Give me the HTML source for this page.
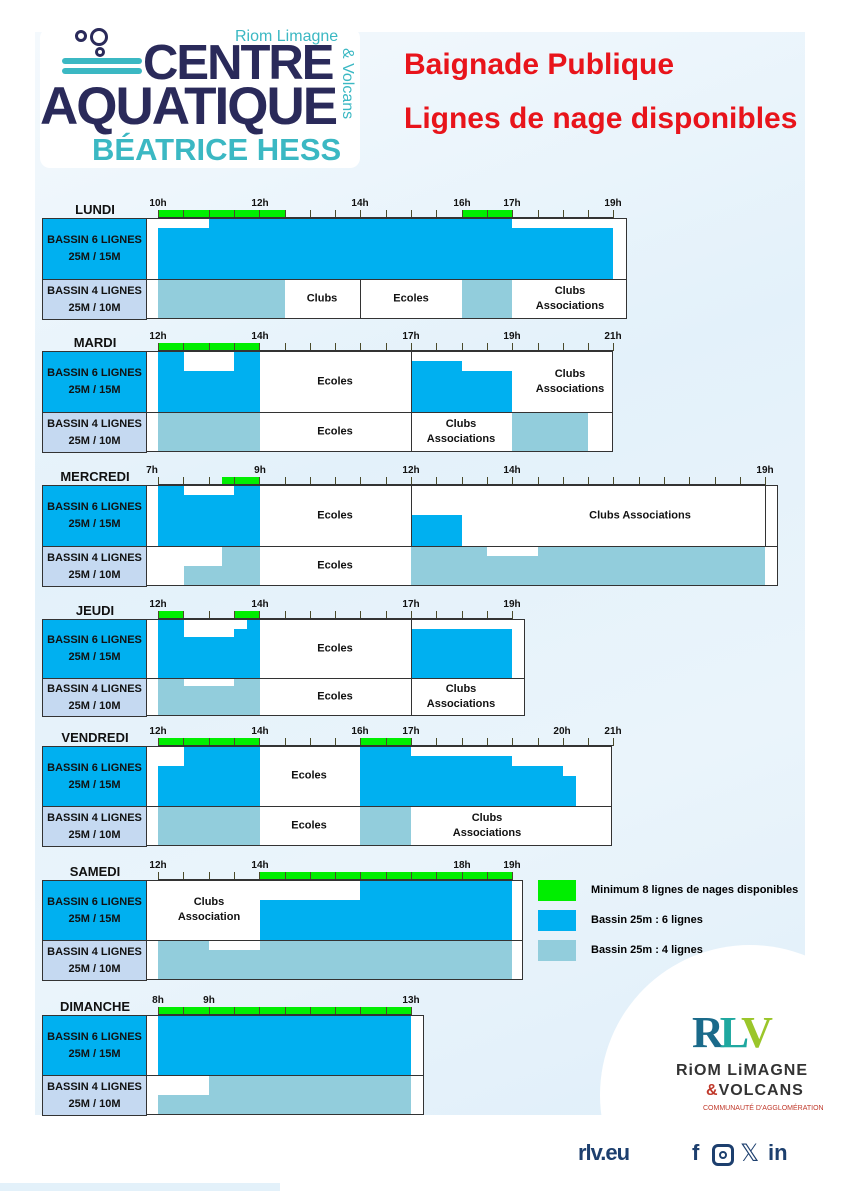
<!DOCTYPE html>
<html><head><meta charset="utf-8">
<style>
*{margin:0;padding:0;box-sizing:border-box}
html,body{width:842px;height:1191px;overflow:hidden}
body{position:relative;background:#fff;font-family:"Liberation Sans",sans-serif}
.a{position:absolute}
.bg{left:35px;top:32px;width:770px;height:1083px;background:linear-gradient(160deg,#f4f9fd 0%,#e3f1fa 40%,#eaf4fb 70%,#e0eff9 100%)}
.lbl{position:absolute;font-weight:bold;font-size:11px;text-align:center;line-height:17px;color:#111;display:flex;flex-direction:column;justify-content:center;border:1px solid #333}
.t{position:absolute;font-weight:bold;font-size:11px;text-align:center;line-height:15px;color:#111;transform:translate(-50%,-50%);white-space:nowrap}
.h{position:absolute;font-weight:bold;font-size:10px;color:#111;transform:translateX(-50%)}
.day{position:absolute;font-weight:bold;font-size:13px;color:#111;transform:translateX(-50%)}
</style></head><body>
<div class="a bg"></div>
<div class="a" style="left:600px;top:945px;width:300px;height:300px;border-radius:50%;background:#fff"></div>
<div class="a" style="left:0;top:1115px;width:842px;height:76px;background:#fff"></div>
<div class="a" style="left:0;top:1183px;width:280px;height:8px;background:#e3f1fa"></div>

<!-- logo -->
<div class="a" style="left:40px;top:28px;width:320px;height:140px;background:#fff;border-radius:10px"></div>
<div class="a" style="left:75px;top:30px;width:12px;height:12px;border:3px solid #2a2a5a;border-radius:50%"></div>
<div class="a" style="left:90px;top:28px;width:18px;height:18px;border:3px solid #2a2a5a;border-radius:50%"></div>
<div class="a" style="left:95px;top:47px;width:10px;height:10px;border:3px solid #2a2a5a;border-radius:50%"></div>
<div class="a" style="left:62px;top:58px;width:80px;height:6px;background:#3bb8c3;border-radius:3px"></div>
<div class="a" style="left:62px;top:68px;width:80px;height:6px;background:#3bb8c3;border-radius:3px"></div>
<div class="a" style="left:235px;top:28px;font-size:16px;color:#3bb8c3">Riom Limagne</div>
<div class="a" style="left:143px;top:38px;font-size:49px;font-weight:bold;color:#2a2a5a;letter-spacing:-2px;line-height:50px">CENTRE</div>
<div class="a" style="left:40px;top:82px;font-size:53px;font-weight:bold;color:#2a2a5a;letter-spacing:-2px;line-height:50px">AQUATIQUE</div>
<div class="a" style="left:356px;top:48px;font-size:16px;color:#3bb8c3;transform:rotate(90deg);transform-origin:0 0;white-space:nowrap">&amp; Volcans</div>
<div class="a" style="left:92px;top:133px;font-size:31px;font-weight:bold;color:#3bb8c3;line-height:34px">BÉATRICE HESS</div>

<div class="a" style="left:404px;top:48px;font-size:30px;font-weight:bold;color:#e8141b">Baignade Publique</div>
<div class="a" style="left:404px;top:102px;font-size:30px;font-weight:bold;color:#e8141b">Lignes de nage disponibles</div>

<div id="c"></div>

<!-- legend -->
<div class="a" style="left:538px;top:880px;width:38px;height:21px;background:#00ee00"></div>
<div class="a" style="left:538px;top:910px;width:38px;height:21px;background:#00b0f0"></div>
<div class="a" style="left:538px;top:940px;width:38px;height:21px;background:#92cddc"></div>
<div class="a" style="left:591px;top:884px;font-size:11px;font-weight:bold">Minimum 8 lignes de nages disponibles</div>
<div class="a" style="left:591px;top:914px;font-size:11px;font-weight:bold">Bassin 25m : 6 lignes</div>
<div class="a" style="left:591px;top:944px;font-size:11px;font-weight:bold">Bassin 25m : 4 lignes</div>

<!-- RLV -->
<div class="a" style="left:692px;top:1008px;font-size:44px;font-weight:bold;font-family:'Liberation Serif',serif;color:#1a6a8a;letter-spacing:-4px;line-height:50px">R<span style="color:#1fa8a0">L</span><span style="color:#9bc62a">V</span></div>
<div class="a" style="left:676px;top:1062px;font-size:16px;font-weight:bold;color:#333;letter-spacing:1px">RiOM LiMAGNE</div>
<div class="a" style="left:706px;top:1082px;font-size:16px;font-weight:bold;color:#333;letter-spacing:1px"><span style="color:#c0392b">&amp;</span>VOLCANS</div>
<div class="a" style="left:703px;top:1105px;font-size:7px;color:#c0392b">COMMUNAUTÉ D'AGGLOMÉRATION</div>
<div class="a" style="left:578px;top:1140px;font-size:22px;font-weight:bold;color:#1d3f6e;letter-spacing:-1px">rlv.eu</div>
<div class="a" style="left:692px;top:1140px;font-size:22px;font-weight:bold;color:#1d3f6e">f</div>
<div class="a" style="left:712px;top:1144px;width:22px;height:22px;border:3px solid #1d3f6e;border-radius:6px"></div>
<div class="a" style="left:719px;top:1151px;width:8px;height:8px;border:2px solid #1d3f6e;border-radius:50%"></div>
<div class="a" style="left:740px;top:1139px;font-size:24px;color:#1d3f6e">𝕏</div>
<div class="a" style="left:768px;top:1140px;font-size:22px;font-weight:bold;color:#1d3f6e">in</div>

<script>
const D=[
{n:"LUNDI",T:218,h1:61,h2:40,R:627,te:613,
 H:[["10h",158],["12h",260],["14h",360],["16h",462],["17h",512],["19h",613]],
 G:[[158,285],[462,512]],
 r1:[[158,209,10,0],[209,512,0,0],[512,613,10,0]],
 r2:[[158,285,0,1],[462,512,0,1]],
 L1:[],L2:[360],
 t1:[],t2:[["Clubs",322],["Ecoles",411],["Clubs<br>Associations",570]]},
{n:"MARDI",T:351,h1:61,h2:40,R:613,te:613,
 H:[["12h",158],["14h",260],["17h",411],["19h",512],["21h",613]],
 G:[[158,260]],
 r1:[[158,184,0,0],[184,234,20,0],[234,260,0,0],[411,462,10,0],[462,512,20,0]],
 r2:[[158,260,0,1],[512,588,0,1]],
 L1:[411],L2:[411],
 t1:[["Ecoles",335],["Clubs<br>Associations",570]],t2:[["Ecoles",335],["Clubs<br>Associations",461]]},
{n:"MERCREDI",T:485,h1:61,h2:40,R:778,te:765,
 H:[["7h",152],["9h",260],["12h",411],["14h",512],["19h",765]],
 G:[[222,260]],
 r1:[[158,184,0,0],[184,234,10,0],[234,260,0,0],[411,462,30,0]],
 r2:[[184,222,20,1],[222,260,0,1],[411,487,0,1],[487,538,10,1],[538,765,0,1]],
 L1:[411,765],L2:[],
 t1:[["Ecoles",335],["Clubs Associations",640]],t2:[["Ecoles",335]]},
{n:"JEUDI",T:619,h1:59,h2:38,R:525,te:512,
 H:[["12h",158],["14h",260],["17h",411],["19h",512]],
 G:[[158,184],[234,260]],
 r1:[[158,184,0,0],[184,234,18,0],[234,247,10,0],[247,260,0,0],[411,512,10,0]],
 r2:[[158,184,0,1],[184,234,8,1],[234,260,0,1]],
 L1:[411],L2:[411],
 t1:[["Ecoles",335]],t2:[["Ecoles",335],["Clubs<br>Associations",461]]},
{n:"VENDREDI",T:746,h1:60,h2:40,R:612,te:613,
 H:[["12h",158],["14h",260],["16h",360],["17h",411],["20h",562],["21h",613]],
 G:[[158,260],[360,411]],
 r1:[[158,184,20,0],[184,260,0,0],[360,411,0,0],[411,512,10,0],[512,563,20,0],[563,576,30,0]],
 r2:[[158,260,0,1],[360,411,0,1]],
 L1:[],L2:[],
 t1:[["Ecoles",309]],t2:[["Ecoles",309],["Clubs<br>Associations",487]]},
{n:"SAMEDI",T:880,h1:60,h2:40,R:523,te:512,
 H:[["12h",158],["14h",260],["18h",462],["19h",512]],
 G:[[260,512]],
 r1:[[260,360,20,0],[360,512,0,0]],
 r2:[[158,209,0,1],[209,260,10,1],[260,512,0,1]],
 L1:[],L2:[],
 t1:[["Clubs<br>Association",209]],t2:[]},
{n:"DIMANCHE",T:1015,h1:60,h2:40,R:424,te:411,
 H:[["8h",158],["9h",209],["13h",411]],
 G:[[158,411]],
 r1:[[158,411,0,0]],
 r2:[[158,209,20,1],[209,411,0,1]],
 L1:[],L2:[],
 t1:[],t2:[]}
];
let s="";
const box=(l,t,w,h,st)=>`<div class="a" style="left:${l}px;top:${t}px;width:${w}px;height:${h}px;${st}"></div>`;
for(const d of D){
 const T=d.T,B1=T+d.h1,B2=B1+d.h2;
 s+=`<div class="day" style="left:95px;top:${T-16}px">${d.n}</div>`;
 s+=box(146,T,d.R-146,B2-T,"background:#fff");
 for(const f of d.r1) s+=box(f[0],T+f[2],f[1]-f[0],B1-T-f[2],"background:#00b0f0");
 for(const f of d.r2) s+=box(f[0],B1+f[2],f[1]-f[0],B2-B1-f[2],"background:#92cddc");
 for(const x of d.L1) s+=box(x,T,1,d.h1,"background:#333");
 for(const x of d.L2) s+=box(x,B1,1,d.h2,"background:#333");
 for(const g of d.G) s+=box(g[0],T-8,g[1]-g[0],8,"background:#00ee00");
 for(let x=158;x<=d.te+1;x+=25.3) s+=box(Math.round(x),T-8,1,8,"background:#4a4a2a");
 s+=box(158,T-1,d.te-158,1,"background:#333");
 for(const h of d.H) s+=`<div class="h" style="left:${h[1]}px;top:${T-20}px">${h[0]}</div>`;
 s+=box(146,T,d.R-146,B2-T,"border:1.5px solid #333;border-left:none");
 s+=box(146,B1,d.R-146,1,"background:#333");
 s+=`<div class="lbl" style="left:42px;top:${T}px;width:105px;height:${d.h1+1}px;background:#00b0f0">BASSIN 6 LIGNES<br>25M / 15M</div>`;
 s+=`<div class="lbl" style="left:42px;top:${B1}px;width:105px;height:${d.h2+1}px;background:#c5d9f1">BASSIN 4 LIGNES<br>25M / 10M</div>`;
 for(const t of d.t1) s+=`<div class="t" style="left:${t[1]}px;top:${(T+B1)/2}px">${t[0]}</div>`;
 for(const t of d.t2) s+=`<div class="t" style="left:${t[1]}px;top:${(B1+B2)/2}px">${t[0]}</div>`;
}
document.getElementById("c").innerHTML=s;
</script>
</body></html>
